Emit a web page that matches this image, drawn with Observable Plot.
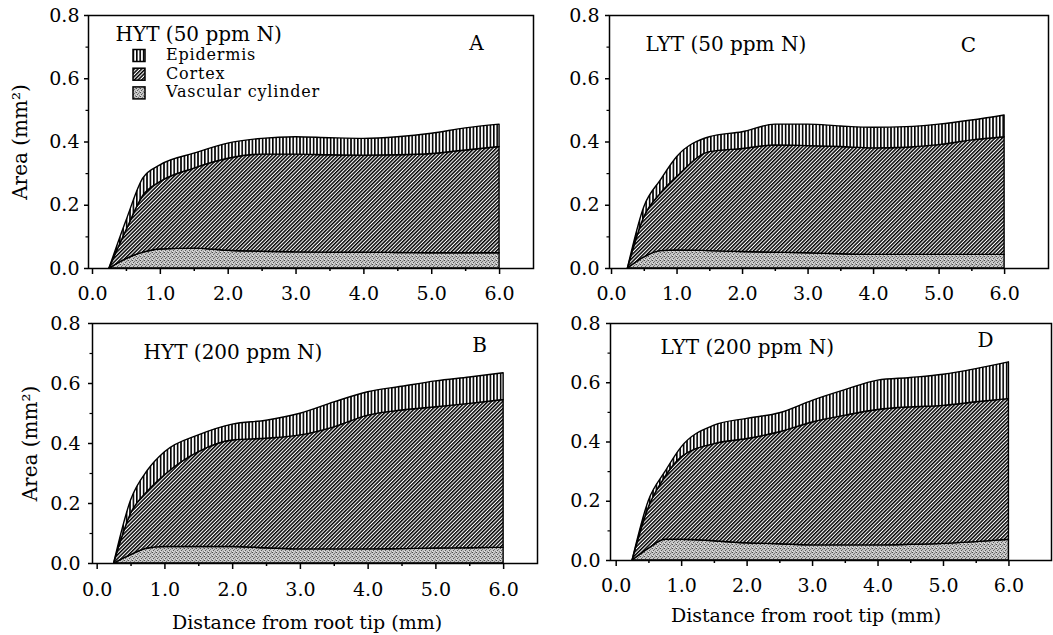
<!DOCTYPE html>
<html>
<head>
<meta charset="utf-8">
<script src="https://cdn.jsdelivr.net/npm/d3@7"></script>
<script src="https://cdn.jsdelivr.net/npm/@observablehq/plot@0.6"></script>
<style>
  html, body { margin: 0; padding: 0; background: #fff; }
  #wrap { position: relative; width: 1053px; height: 635px; background: #fff; overflow: hidden; }
  .panel { position: absolute; }
  #legend { position: absolute; left: 0; top: 0; }
</style>
</head>
<body>
<svg width="0" height="0" style="position:absolute">
  <defs>
    <pattern id="pat-epi" patternUnits="userSpaceOnUse" width="3.4" height="8">
      <rect width="3.4" height="8" fill="#fff"/>
      <rect x="0" y="0" width="1.6" height="8" fill="#000"/>
    </pattern>
    <pattern id="pat-cortex" patternUnits="userSpaceOnUse" width="2.6" height="8" patternTransform="rotate(45)">
      <rect width="2.6" height="8" fill="#fff"/>
      <rect x="0" y="0" width="1.5" height="8" fill="#000"/>
    </pattern>
    <pattern id="pat-vasc" patternUnits="userSpaceOnUse" width="4" height="4">
      <rect width="4" height="4" fill="#c6c6c6"/>
      <rect x="0" y="0" width="1" height="1" fill="#4a4a4a"/>
      <rect x="2" y="1" width="1" height="1" fill="#777"/>
      <rect x="1" y="2" width="1" height="1" fill="#5a5a5a"/>
      <rect x="3" y="3" width="1" height="1" fill="#888"/>
      <rect x="3" y="0" width="1" height="1" fill="#999"/>
      <rect x="0" y="3" width="1" height="1" fill="#e6e6e6"/>
    </pattern>
  </defs>
</svg>
<div id="wrap"></div>
<script>
// ---------------- DATA ----------------
const distance = [0.25, 0.5, 0.75, 1.0, 1.5, 2.0, 2.5, 3.0, 3.5, 4.0, 4.5, 5.0, 5.5, 6.0];
const tissues = ["Vascular cylinder", "Cortex", "Epidermis"];   // stacking order, bottom to top
const legendOrder = ["Epidermis", "Cortex", "Vascular cylinder"];
const xTicks = [0, 1, 2, 3, 4, 5, 6];
const xMinorTicks = [0.5, 1.5, 2.5, 3.5, 4.5, 5.5];
const yTicks = [0, 0.2, 0.4, 0.6, 0.8];
const yMinorTicks = [0.1, 0.3, 0.5, 0.7];

// A: HYT (50 ppm N)
const hyt50Vascular  = [0, 0.030, 0.050, 0.060, 0.063, 0.056, 0.053, 0.051, 0.050, 0.050, 0.049, 0.048, 0.048, 0.048];
const hyt50Cortex    = [0, 0.090, 0.180, 0.213, 0.253, 0.291, 0.307, 0.309, 0.308, 0.307, 0.309, 0.314, 0.325, 0.336];
const hyt50Epidermis = [0, 0.030, 0.055, 0.053, 0.047, 0.048, 0.050, 0.055, 0.054, 0.053, 0.057, 0.064, 0.070, 0.071];

// B: HYT (200 ppm N)
const hyt200Vascular  = [0, 0.028, 0.050, 0.055, 0.055, 0.055, 0.051, 0.047, 0.047, 0.047, 0.048, 0.050, 0.051, 0.053];
const hyt200Cortex    = [0, 0.138, 0.190, 0.239, 0.316, 0.355, 0.365, 0.380, 0.407, 0.446, 0.462, 0.471, 0.481, 0.492];
const hyt200Epidermis = [0, 0.044, 0.070, 0.077, 0.056, 0.053, 0.060, 0.072, 0.083, 0.078, 0.079, 0.086, 0.088, 0.089];

// C: LYT (50 ppm N)
const lyt50Vascular  = [0, 0.035, 0.055, 0.057, 0.055, 0.052, 0.050, 0.048, 0.045, 0.043, 0.043, 0.043, 0.043, 0.043];
const lyt50Cortex    = [0, 0.127, 0.181, 0.232, 0.313, 0.326, 0.339, 0.339, 0.339, 0.337, 0.339, 0.347, 0.362, 0.372];
const lyt50Epidermis = [0, 0.032, 0.042, 0.063, 0.047, 0.053, 0.066, 0.068, 0.065, 0.065, 0.065, 0.065, 0.063, 0.069];

// D: LYT (200 ppm N)
const lyt200Vascular  = [0, 0.040, 0.070, 0.070, 0.065, 0.058, 0.055, 0.051, 0.051, 0.051, 0.053, 0.056, 0.062, 0.070];
const lyt200Cortex    = [0, 0.140, 0.211, 0.278, 0.328, 0.352, 0.378, 0.415, 0.438, 0.457, 0.464, 0.466, 0.472, 0.475];
const lyt200Epidermis = [0, 0.022, 0.017, 0.034, 0.062, 0.068, 0.064, 0.073, 0.086, 0.099, 0.099, 0.105, 0.112, 0.124];

const panelTitles = ["HYT (50 ppm N)", "HYT (200 ppm N)", "LYT (50 ppm N)", "LYT (200 ppm N)"];
const panelLetters = ["A", "B", "C", "D"];
const yLabel = "Area (mm²)";
const xLabel = "Distance from root tip (mm)";

// ---------------- LAYOUT ----------------
const fills = {"Vascular cylinder": "url(#pat-vasc)", "Cortex": "url(#pat-cortex)", "Epidermis": "url(#pat-epi)"};
const FONT = "'DejaVu Serif', 'Liberation Serif', serif";

const panels = [
  {series: [hyt50Vascular, hyt50Cortex, hyt50Epidermis], title: panelTitles[0], letter: panelLetters[0],
   left: 0, top: 0, width: 545, height: 320, mL: 88, mR: 12, mT: 15, mB: 52, xDomain: [-0.059, 6.50],
   titleDx: 27, titleDy: 19, letterDx: -57, letterDy: 28, yTitle: true, yTitleDx: -68, xTitle: false, xPad: 12, yPad: 5},
  {series: [hyt200Vascular, hyt200Cortex, hyt200Epidermis], title: panelTitles[1], letter: panelLetters[1],
   left: 0, top: 300, width: 545, height: 335, mL: 92, mR: 8, mT: 23, mB: 72, xDomain: [-0.069, 6.50],
   titleDx: 51, titleDy: 29, letterDx: -58, letterDy: 22, yTitle: true, yTitleDx: -62, xTitle: true, xTitleDx: -8, xTitleDy: 59, xPad: 13, yPad: 8},
  {series: [lyt50Vascular, lyt50Cortex, lyt50Epidermis], title: panelTitles[2], letter: panelLetters[2],
   left: 540, top: 0, width: 513, height: 320, mL: 69, mR: 5, mT: 15, mB: 52, xDomain: [-0.031, 6.67],
   titleDx: 36, titleDy: 29, letterDx: -80, letterDy: 30, yTitle: false, xTitle: false, xPad: 12, yPad: 6},
  {series: [lyt200Vascular, lyt200Cortex, lyt200Epidermis], title: panelTitles[3], letter: panelLetters[3],
   left: 540, top: 300, width: 513, height: 335, mL: 70, mR: 2, mT: 23, mB: 75, xDomain: [-0.087, 6.65],
   titleDx: 50, titleDy: 24, letterDx: -66, letterDy: 17, yTitle: false, xTitle: true, xTitleDx: -25, xTitleDy: 55, xPad: 12, yPad: 6}
];

const wrap = document.getElementById("wrap");
const fmt = d3.format(".1f");

for (const p of panels) {
  const rows = [];
  distance.forEach((x, i) => {
    tissues.forEach((t, k) => rows.push({x, tissue: t, value: p.series[k][i]}));
  });

  const marks = [
    Plot.areaY(rows, {
      x: "x", y: "value", z: "tissue", fill: "tissue", order: tissues,
      stroke: "black", strokeWidth: 1.4, strokeLinejoin: "round", curve: "monotone-x"
    }),
    Plot.frame({stroke: "black", strokeWidth: 1.5}),
    Plot.axisX({ticks: xTicks, tickFormat: fmt, tickSize: 6, tickPadding: p.xPad, strokeWidth: 1.5, label: null, fontSize: 19}),
    Plot.axisX({ticks: xMinorTicks, tickFormat: () => "", tickSize: 3, strokeWidth: 1.5, label: null}),
    Plot.axisY({ticks: yTicks, tickFormat: fmt, tickSize: 4, tickPadding: p.yPad, strokeWidth: 1.5, label: null, fontSize: 19}),
    Plot.axisY({ticks: yMinorTicks, tickFormat: () => "", tickSize: 2.5, strokeWidth: 1.2, label: null}),
    Plot.text([p.title], {frameAnchor: "top-left", dx: p.titleDx, dy: p.titleDy, textAnchor: "start", lineAnchor: "middle", fontSize: 20}),
    Plot.text([p.letter], {frameAnchor: "top-right", dx: p.letterDx, dy: p.letterDy, textAnchor: "middle", lineAnchor: "middle", fontSize: 20})
  ];
  if (p.yTitle) {
    marks.push(Plot.text([yLabel], {frameAnchor: "left", dx: p.yTitleDx, rotate: -90, textAnchor: "middle", lineAnchor: "middle", fontSize: 20}));
  }
  if (p.xTitle) {
    marks.push(Plot.text([xLabel], {frameAnchor: "bottom", dx: p.xTitleDx, dy: p.xTitleDy, textAnchor: "middle", lineAnchor: "middle", fontSize: 19}));
  }

  const svg = Plot.plot({
    width: p.width, height: p.height,
    marginLeft: p.mL, marginRight: p.mR, marginTop: p.mT, marginBottom: p.mB,
    x: {domain: p.xDomain},
    y: {domain: [0, 0.8]},
    color: {domain: tissues, range: tissues.map(t => fills[t]), legend: false},
    style: `font-family: ${FONT}; font-size: 19px; color: black; background: transparent; overflow: visible;`,
    marks
  });
  const holder = document.createElement("div");
  holder.className = "panel";
  holder.style.left = p.left + "px";
  holder.style.top = p.top + "px";
  holder.appendChild(svg);
  wrap.appendChild(holder);
}

// Legend inside panel A
const legendSvg = d3.create("svg").attr("id", "legend").attr("width", 330).attr("height", 110)
  .style("font-family", FONT).style("font-size", "16px").style("letter-spacing", "0.8px");
const rowY = [55.5, 74.2, 92.9];
legendOrder.forEach((t, i) => {
  legendSvg.append("rect").attr("x", 133).attr("y", rowY[i] - 6).attr("width", 12).attr("height", 12)
    .attr("fill", fills[t]).attr("stroke", "black").attr("stroke-width", 1.5);
  legendSvg.append("text").attr("x", 166).attr("y", rowY[i]).attr("dominant-baseline", "middle")
    .attr("fill", "black").text(t);
});
wrap.appendChild(legendSvg.node());
</script>
</body>
</html>
